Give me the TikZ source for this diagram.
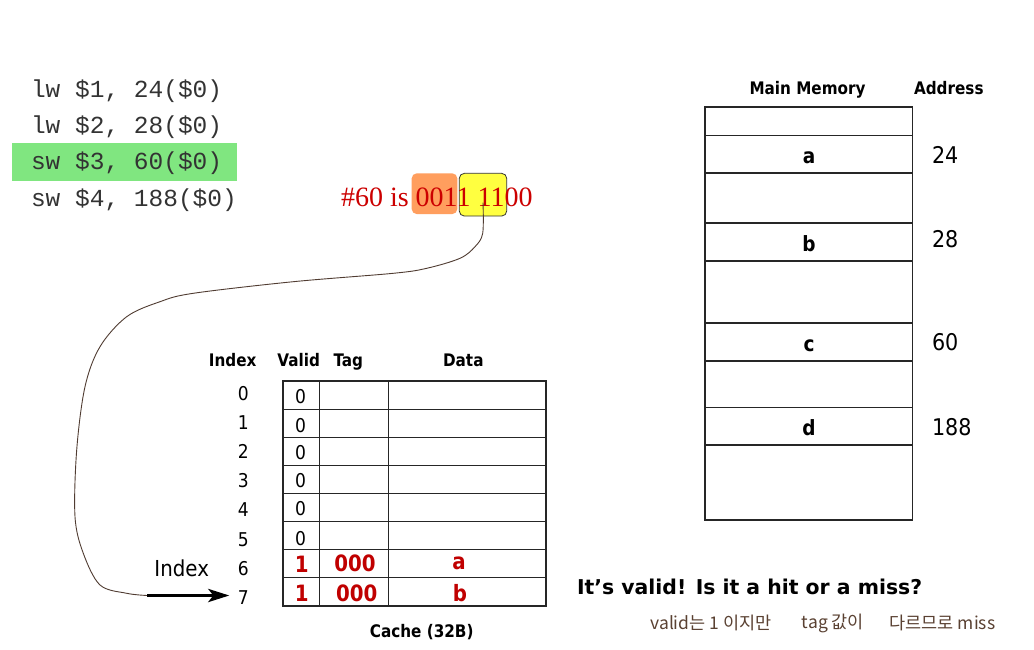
\documentclass[tikz,border=0pt]{standalone}
\usepackage{fontspec}
\usetikzlibrary{arrows.meta}
\newfontfamily\rfnt{DejaVu Sans}[FakeStretch=0.9]
\newfontfamily\hfnt{DejaVu Sans}[FakeStretch=0.88]
\newfontfamily\wfnt{DejaVu Sans}
\newfontfamily\mfnt{Liberation Mono}
\newfontfamily\sfnt{Liberation Serif}
\newfontfamily\krfnt{Noto Sans CJK KR}
\definecolor{hlgreen}{RGB}{128,230,128}
\definecolor{boxorange}{RGB}{255,158,94}
\definecolor{boxyellow}{RGB}{255,255,64}
\definecolor{cred}{RGB}{192,0,0}
\definecolor{sred}{RGB}{204,0,0}
\definecolor{curvebrown}{RGB}{80,60,50}
\definecolor{handbrown}{RGB}{90,65,50}
\tikzset{
  lab/.style={inner sep=0pt, outer sep=0pt},
  hdr/.style={lab, anchor=base, font=\hfnt\bfseries\fontsize{17.3}{20}\selectfont},
  dig/.style={lab, anchor=base, font=\rfnt\fontsize{19}{22}\selectfont},
  redb/.style={lab, anchor=base, text=cred, font=\hfnt\bfseries\fontsize{22.5}{26}\selectfont},
  memb/.style={lab, anchor=base, font=\hfnt\bfseries\fontsize{21}{24}\selectfont},
  addr/.style={lab, anchor=base west, font=\rfnt\fontsize{23}{26}\selectfont},
  instr/.style={lab, anchor=base west, text=black!80, font=\mfnt\fontsize{24.5}{28}\selectfont},
  hand/.style={lab, text=handbrown, font=\krfnt\fontsize{17.5}{20}\selectfont},
  grid/.style={line width=1.2pt, draw=black!85},
  hlbox/.style={lab, rounded corners=5pt},
  thinlink/.style={draw=curvebrown, line width=0.9pt},
  thickarrow/.style={draw=black, line width=3.6pt, -{Stealth[length=21pt,width=13pt,inset=5pt]}},
}
\begin{document}
\begin{tikzpicture}[x=1pt,y=-1pt]
\path[use as bounding box, fill=white] (0,0) rectangle (1034,650);

% instructions
\fill[hlgreen] (12.3,143.3) rectangle (236.7,180.7);
\node[instr] (ins1) at (31,98) {lw \$1, 24(\$0)};
\node[instr] (ins2) at (31,134) {lw \$2, 28(\$0)};
\node[instr] (ins3) at (31,170) {sw \$3, 60(\$0)};
\node[instr] (ins4) at (31,206) {sw \$4, 188(\$0)};

% address bits
\node[hlbox, fill=boxorange, minimum width=45.6pt, minimum height=40.7pt] (org) at (434.5,193.7) {};
\node[hlbox, fill=boxyellow, draw=black!80, line width=0.8pt, minimum width=47.4pt, minimum height=42.7pt] (yel) at (483,194.7) {};
\node[lab, anchor=base west, text=sred, font=\sfnt\fontsize{28}{32}\selectfont] (bits) at (341,206.7) {\#60 is 0011 1100};

% main memory
\node[hdr] (mmh) at (807.5,95) {Main Memory};
\node[hdr] (adh) at (948.8,95) {Address};
\draw[grid] (705,107) rectangle (912.5,520);
\foreach \y in {135.5,173,223,261,323,361,407.5,445} \draw[grid] (705,\y) -- (912.5,\y);
\node[memb] (ma) at (809,163.3) {a};
\node[memb] (mb) at (809,251) {b};
\node[memb] (mc) at (809,351.7) {c};
\node[memb] (md) at (809,435) {d};
\node[addr] (a24) at (932,163.3) {24};
\node[addr] (a28) at (932,247.3) {28};
\node[addr] (a60) at (932,350) {60};
\node[addr] (a188) at (932,435) {188};

% cache
\node[hdr] (hidx) at (232.7,366) {Index};
\node[hdr] (hval) at (298.7,366) {Valid};
\node[hdr] (htag) at (348.3,366) {Tag};
\node[hdr] (hdat) at (463.3,366) {Data};
\draw[grid] (283,381) rectangle (546,606);
\foreach \k in {1,...,7} \draw[grid] (283,381+28.125*\k) -- (546,381+28.125*\k);
\draw[grid] (319.3,381) -- (319.3,606);
\draw[grid] (388.3,381) -- (388.3,606);
\foreach \k in {0,...,7} \node[dig] (i\k) at (243.3,400.3+29.15*\k) {\k};
\foreach \k/\y in {0/403.7,1/432,2/459.7,3/487,4/515.3,5/545.3} \node[dig] (v\k) at (300.5,\y) {0};
\node[redb] (v6) at (301.7,572.5) {1};
\node[redb] (v7) at (301.7,601.8) {1};
\node[redb] (t6) at (355,571.5) {000};
\node[redb] (t7) at (356.7,601.5) {000};
\node[redb] (d6) at (459,569) {a};
\node[redb] (d7) at (460,601.5) {b};
\node[hdr] (cap) at (421.7,637.7) {Cache (32B)};
\node[lab, anchor=base, font=\rfnt\fontsize{22}{26}\selectfont] (ilab) at (181.7,576) {Index};

% connector
\coordinate (cs) at (147,595.5);
\draw[thinlink] plot[smooth, tension=0.55] coordinates {([yshift=-8pt]yel.center) (482.7,233.3) (475,246.7) (460,258.3) (426.7,268.3) (393.3,273.3) (293.3,281.7) (193.3,293.3) (160,301.7) (126.7,316.7) (100,346.7) (85,386.7) (76.7,450) (75,516.7) (83.3,553.3) (100,585) (126.7,593.3) (cs)};
\draw[thickarrow] (cs) -- ([xshift=-8.5pt]i7.west |- cs);

% question
\node[lab, anchor=base west, font=\wfnt\bfseries\fontsize{20.4}{24}\selectfont] (q) at (577,594.3) {It’s valid! Is it a hit or a miss?};
\node[hand] (h1) at (711,623) {valid는 1 이지만};
\node[hand] (h2) at (833,623) {tag 값이};
\node[hand] (h3) at (942.5,623) {다르므로 miss};
\end{tikzpicture}
\end{document}
